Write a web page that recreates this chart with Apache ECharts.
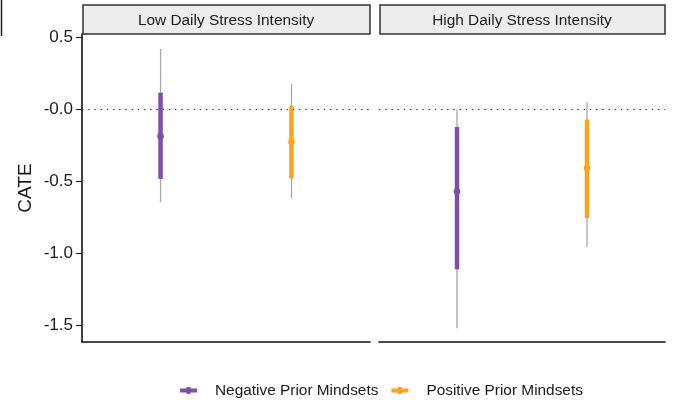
<!DOCTYPE html>
<html>
<head>
<meta charset="utf-8">
<script src="https://cdn.jsdelivr.net/npm/echarts@6/dist/echarts.min.js"></script>
<style>
  html, body { margin: 0; padding: 0; background: #ffffff; }
  #chart { width: 673px; height: 400px; }
</style>
</head>
<body>
<div id="chart"></div>
<script>
// Facet panels and groups
const panels = ['Low Daily Stress Intensity', 'High Daily Stress Intensity'];
const mindsets = ['Negative Prior Mindsets', 'Positive Prior Mindsets'];

// CATE estimates and intervals, per panel: [negative, positive]
const estimate = [[-0.187, -0.227], [-0.571, -0.407]];
const innerLo  = [[-0.483, -0.479], [-1.110, -0.754]];
const innerHi  = [[ 0.115,  0.023], [-0.123, -0.072]];
const outerLo  = [[-0.645, -0.617], [-1.519, -0.955]];
const outerHi  = [[ 0.418,  0.175], [-0.002,  0.051]];

// Y axis ticks
const yTicks = [0.5, 0, -0.5, -1, -1.5];
const yTickLabels = ['0.5', '-0.0', '-0.5', '-1.0', '-1.5'];

const colors = ['#7E4FA6', '#FFA31A'];
const FONT = '"Liberation Sans", Arial, Helvetica, sans-serif';

// Layout
const plotTop = 34, plotHeight = 308;
const panelLeft = [82, 379], panelWidth = [288, 286];
const stripTop = 5, stripHeight = 29;

function renderRange(params, api) {
  const x = api.value(0);
  const mid = api.coord([x, api.value(1)]);
  const lo50 = api.coord([x, api.value(2)]);
  const hi50 = api.coord([x, api.value(3)]);
  const lo95 = api.coord([x, api.value(4)]);
  const hi95 = api.coord([x, api.value(5)]);
  const color = api.visual('color');
  return {
    type: 'group',
    children: [
      { type: 'line', shape: { x1: hi95[0], y1: hi95[1], x2: lo95[0], y2: lo95[1] },
        style: { stroke: '#A8A8A8', lineWidth: 1.3 } },
      { type: 'line', shape: { x1: hi50[0], y1: hi50[1], x2: lo50[0], y2: lo50[1] },
        style: { stroke: color, lineWidth: 4.5 } },
      { type: 'circle', shape: { cx: mid[0], cy: mid[1], r: 3.3 },
        style: { fill: color } }
    ]
  };
}

const grids = [], xAxes = [], yAxes = [], series = [], strips = [];
panels.forEach((title, p) => {
  grids.push({ left: panelLeft[p], top: plotTop, width: panelWidth[p], height: plotHeight, containLabel: false });
  xAxes.push({
    type: 'value', gridIndex: p, min: 0.4, max: 2.6,
    axisLine: { show: true, onZero: false, lineStyle: { color: '#111', width: 1.6 } },
    axisTick: { show: false }, axisLabel: { show: false }, splitLine: { show: false }
  });
  yAxes.push({
    type: 'value', gridIndex: p, min: -1.614, max: 0.522,
    name: p === 0 ? 'CATE' : '', nameLocation: 'middle', nameGap: 47,
    nameTextStyle: { fontFamily: FONT, fontSize: 19, color: '#1a1a1a' },
    axisLine: { show: p === 0, onZero: false, lineStyle: { color: '#111', width: 1.6 } },
    axisTick: { show: p === 0, length: 6, customValues: yTicks, lineStyle: { color: '#222', width: 1.2 } },
    axisLabel: {
      show: p === 0, customValues: yTicks, margin: 9,
      fontFamily: FONT, fontSize: 17, color: '#1a1a1a',
      formatter: v => yTickLabels[yTicks.findIndex(t => Math.abs(t - v) < 1e-9)] ?? ''
    },
    splitLine: { show: false }
  });
  mindsets.forEach((name, m) => {
    const s = {
      type: 'custom', name: name, xAxisIndex: p, yAxisIndex: p,
      itemStyle: { color: colors[m] },
      renderItem: renderRange,
      encode: { x: 0, y: [1, 2, 3, 4, 5] },
      data: [[m + 1, estimate[p][m], innerLo[p][m], innerHi[p][m], outerLo[p][m], outerHi[p][m]]],
      z: 3
    };
    if (m === 0) {
      s.markLine = {
        silent: true, symbol: 'none', animation: false,
        label: { show: false },
        lineStyle: { type: [1.4, 4.8], color: '#333', width: 1.1 },
        data: [{ yAxis: 0 }]
      };
    }
    series.push(s);
  });
  strips.push({
    type: 'group',
    children: [
      { type: 'rect', shape: { x: panelLeft[p] + 1, y: stripTop, width: panelWidth[p] - 1, height: stripHeight },
        style: { fill: '#EDEDED', stroke: '#333', lineWidth: 1.5 } },
      { type: 'text', x: panelLeft[p] + panelWidth[p] / 2, y: stripTop + stripHeight / 2 + 1,
        style: { text: title, fontFamily: FONT, fontSize: 15.4, fill: '#1a1a1a', align: 'center', verticalAlign: 'middle' } }
    ]
  });
});

// thin frame edge at the top-left corner
strips.push({ type: 'line', shape: { x1: 1.5, y1: 0, x2: 1.5, y2: 36 }, style: { stroke: '#222', lineWidth: 1.5 } });

const chart = echarts.init(document.getElementById('chart'), null, { renderer: 'canvas' });
chart.setOption({
  animation: false,
  backgroundColor: '#ffffff',
  grid: grids,
  xAxis: xAxes,
  yAxis: yAxes,
  series: series,
  graphic: strips,
  legend: {
    data: mindsets,
    left: 175, top: 378,
    itemWidth: 17, itemHeight: 7, itemGap: 13,
    icon: 'path://M0,2.5h6.5v-1.5h4v1.5h6.5v4h-6.5v1.5h-4v-1.5h-6.5z',
    textStyle: { fontFamily: FONT, fontSize: 15.4, color: '#1a1a1a', padding: [0, 0, 0, 13] },
    selectedMode: false
  }
});
</script>
</body>
</html>
